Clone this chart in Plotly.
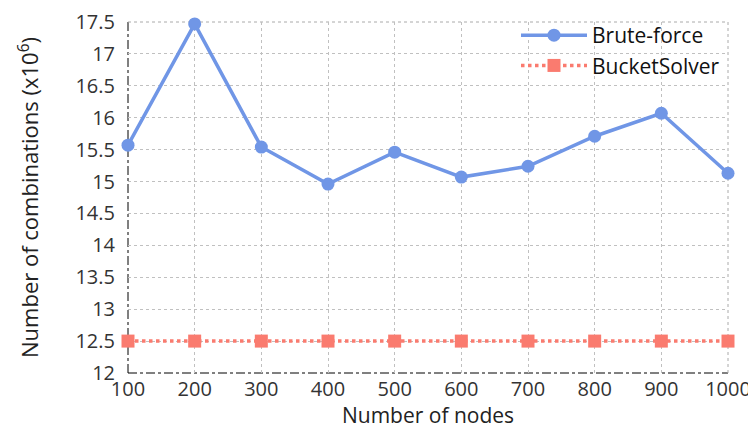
import plotly.graph_objects as go

# data
nodes = [100, 200, 300, 400, 500, 600, 700, 800, 900, 1000]
brute_force = [15.57, 17.47, 15.54, 14.96, 15.46, 15.07, 15.24, 15.71, 16.07, 15.13]
bucket_solver = [12.5, 12.5, 12.5, 12.5, 12.5, 12.5, 12.5, 12.5, 12.5, 12.5]

y_ticks = [12, 12.5, 13, 13.5, 14, 14.5, 15, 15.5, 16, 16.5, 17, 17.5]
y_labels = ["12", "12.5", "13", "13.5", "14", "14.5", "15", "15.5", "16", "16.5", "17", "17.5"]

FONT = "Open Sans"

fig = go.Figure()

fig.add_trace(
    go.Scatter(
        x=nodes,
        y=brute_force,
        mode="lines+markers",
        name="Brute-force",
        line=dict(color="#7096e6", width=3.5),
        marker=dict(symbol="circle", size=13, color="#7096e6"),
        cliponaxis=False,
    )
)

fig.add_trace(
    go.Scatter(
        x=nodes,
        y=bucket_solver,
        mode="lines+markers",
        name="BucketSolver",
        line=dict(color="#fa7b6f", width=3.5, dash="dot"),
        marker=dict(symbol="square", size=13, color="#fa7b6f"),
        cliponaxis=False,
    )
)

# plot frame: dash-dot black on left/bottom, dotted grey on top/right
frame = [
    dict(x0=0, x1=0, y0=0, y1=1, color="black", dash="dashdot"),
    dict(x0=0, x1=1, y0=0, y1=0, color="black", dash="dashdot"),
    dict(x0=0, x1=1, y0=1, y1=1, color="#aaaaaa", dash="dot"),
    dict(x0=1, x1=1, y0=0, y1=1, color="#aaaaaa", dash="dot"),
]
for f in frame:
    fig.add_shape(
        type="line", xref="paper", yref="paper",
        x0=f["x0"], x1=f["x1"], y0=f["y0"], y1=f["y1"],
        line=dict(color=f["color"], dash=f["dash"], width=1),
        layer="below",
    )

# the page body adds an 8px margin, so shrink the figure to fit the window
fig.update_layout(
    width=748,
    height=421,
    template="plotly_white",
    font=dict(family=FONT, size=20, color="#222222"),
    margin=dict(l=120, r=28, t=14, b=56, autoexpand=False),
    plot_bgcolor="white",
    paper_bgcolor="white",
    showlegend=True,
    legend=dict(
        x=0.995,
        y=1.02,
        xanchor="right",
        yanchor="top",
        bgcolor="rgba(0,0,0,0)",
        font=dict(family=FONT, size=21, color="#111111"),
        tracegroupgap=0,
        itemwidth=66,
    ),
    xaxis=dict(
        title=dict(text="Number of nodes", font=dict(size=21), standoff=9),
        range=[100, 1000],
        tickvals=nodes,
        showgrid=True,
        gridcolor="#c0c0c0",
        griddash="dot",
        gridwidth=1,
        zeroline=False,
        showline=False,
        ticks="",
        ticklabelstandoff=2,
        automargin=False,
        tickfont=dict(size=20, color="#333333"),
    ),
    yaxis=dict(
        title=dict(text="Number of combinations (x10<sup>6</sup>)", font=dict(size=22), standoff=30),
        range=[12, 17.5],
        tickvals=y_ticks,
        ticktext=y_labels,
        showgrid=True,
        gridcolor="#c0c0c0",
        griddash="dot",
        gridwidth=1,
        zeroline=False,
        showline=False,
        ticks="",
        ticklabelstandoff=12,
        automargin=False,
        tickfont=dict(size=20, color="#333333"),
    ),
)

fig.write_html("out.html")
